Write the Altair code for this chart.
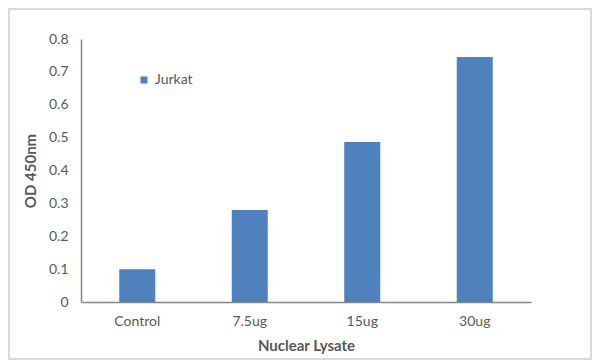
import altair as alt
import pandas as pd

categories = ["Control", "7.5ug", "15ug", "30ug"]
values = [0.1, 0.28, 0.487, 0.745]
series = ["Jurkat"] * 4

df = pd.DataFrame({"Nuclear Lysate": categories, "OD": values, "Series": series})

FONT = "Lato"
TXT = "#595959"

bars = alt.Chart(df).mark_bar(color="#4F81BD").encode(
    x=alt.X("Nuclear Lysate:N", sort=categories,
            scale=alt.Scale(paddingInner=0.68, paddingOuter=0.34),
            axis=alt.Axis(title="Nuclear Lysate", labelAngle=0, ticks=False,
                          labelPadding=12, titlePadding=10)),
    y=alt.Y("OD:Q", scale=alt.Scale(domain=[0, 0.8], nice=False),
            axis=alt.Axis(title="OD 450nm", values=[0, 0.1, 0.2, 0.3, 0.4, 0.5, 0.6, 0.7, 0.8],
                          format=".1~f", grid=False, ticks=False, labelPadding=13,
                          titlePadding=10)),
    color=alt.Color("Series:N", scale=alt.Scale(range=["#4F81BD"]),
                    legend=alt.Legend(title=None, orient="none", legendX=56, legendY=34,
                                      symbolType="square", symbolSize=49,
                                      labelFontSize=14, labelColor=TXT, labelFont=FONT,
                                      padding=0, symbolStrokeWidth=0, labelOffset=4)),
)

border = alt.Chart(pd.DataFrame({"a": [0]})).mark_rect(
    fill=None, stroke="#d9d9d9", strokeWidth=2
).encode(x=alt.value(-72), x2=alt.value(510), y=alt.value(-30), y2=alt.value(320))

chart = alt.layer(border, bars).properties(
    width=450, height=263,
    autosize=alt.AutoSizeParams(type="none"),
    padding={"left": 73, "top": 31, "right": 61, "bottom": 59},
).configure_view(stroke=None).configure_axis(
    domainColor="#868686", domainWidth=1.5,
    labelFont=FONT, labelFontSize=14, labelColor=TXT,
    titleFont=FONT, titleFontSize=15, titleColor=TXT, titleFontWeight="bold",
)

chart.save("out.html", embed_options={"renderer": "svg", "actions": False})
